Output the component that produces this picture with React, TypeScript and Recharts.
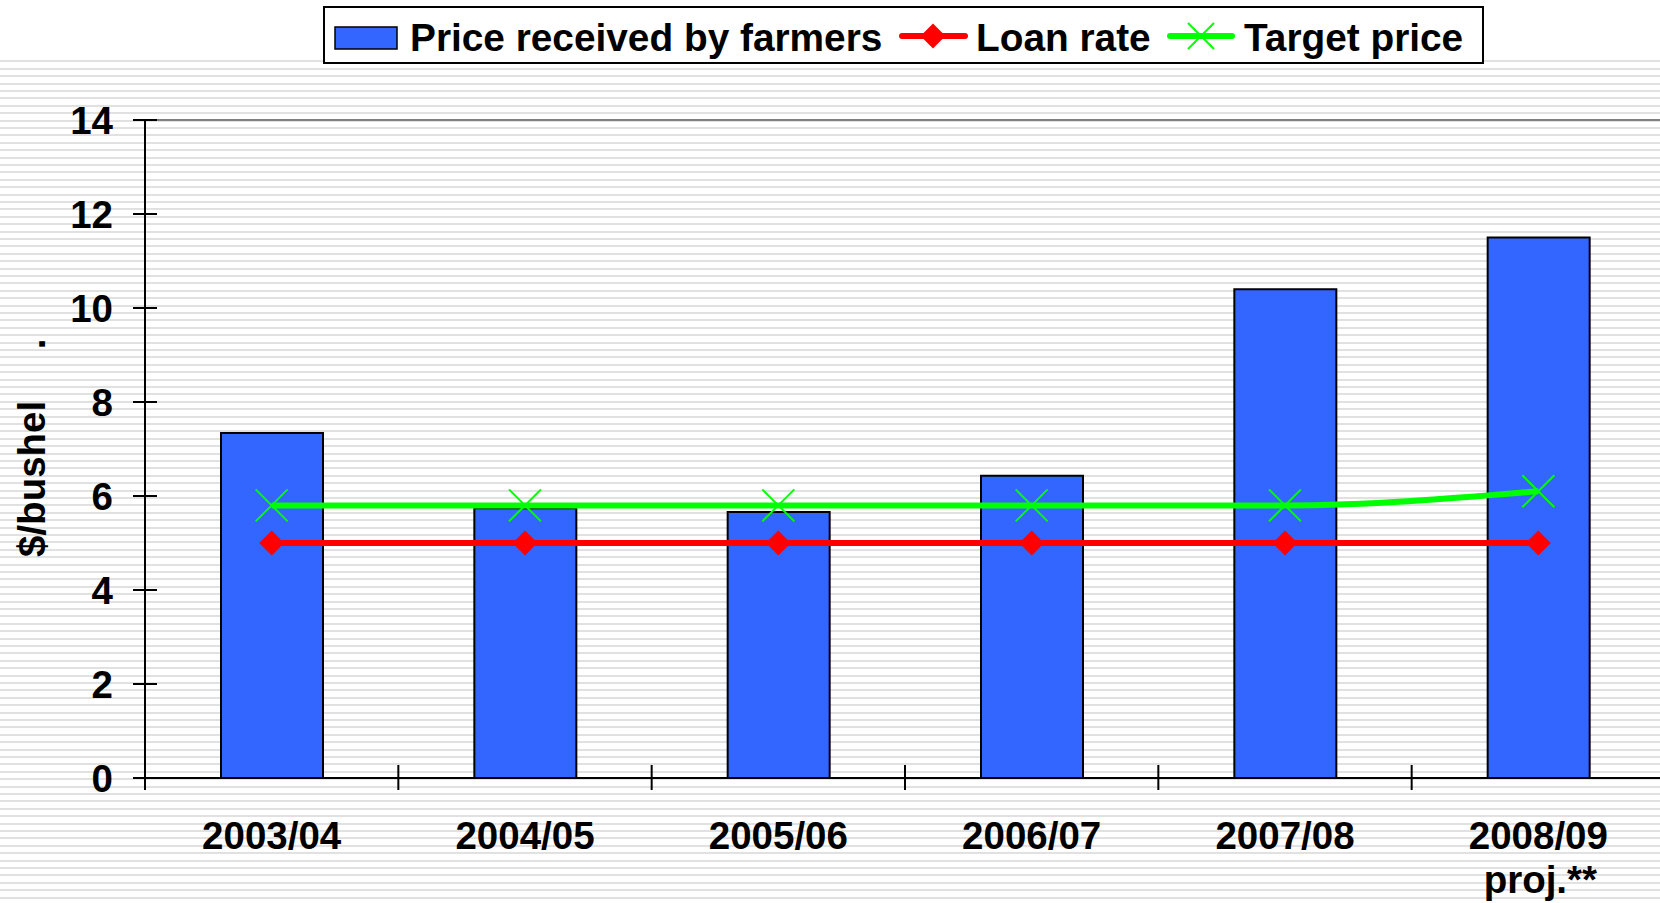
import React from 'react';
import { ComposedChart, Bar, Line, XAxis, YAxis, ReferenceLine } from 'recharts';

const categories = ['2003/04', '2004/05', '2005/06', '2006/07', '2007/08', '2008/09'];
const subLabels = ['', '', '', '', '', 'proj.**'];
const priceReceived = [7.34, 5.74, 5.66, 6.43, 10.4, 11.5];
const loanRate = [5.0, 5.0, 5.0, 5.0, 5.0, 5.0];
const targetPrice = [5.8, 5.8, 5.8, 5.8, 5.8, 6.1];
const yTicks = [0, 2, 4, 6, 8, 10, 12, 14];

const seriesNames = {
  price: 'Price received by farmers',
  loan: 'Loan rate',
  target: 'Target price',
};

const data = categories.map((c, i) => ({
  cat: c,
  price: priceReceived[i],
  loan: loanRate[i],
  target: targetPrice[i],
}));

const FONT = '"Liberation Sans", Arial, Helvetica, sans-serif';
const FS = 38.5;
const LFS = 38.8;
const W = 1665;
const H = 903;
const Y_AXIS_W = 145;
const X_AXIS_H = 125;
const TOP = 120;
const band = (W - Y_AXIS_W) / categories.length;

const XTick = (props: any) => {
  const { x, y, payload, index } = props;
  const i = typeof payload?.index === 'number' ? payload.index : index;
  const sub = subLabels[i];
  return (
    <g>
      <line x1={x - band / 2} x2={x - band / 2} y1={y - 13} y2={y + 12} stroke="#000" strokeWidth={2} />
      <text x={x} y={y + 71} textAnchor="middle" fontFamily={FONT} fontWeight="bold" fontSize={FS} fill="#000">
        {payload.value}
      </text>
      {sub ? (
        <text x={x + 2} y={y + 115} textAnchor="middle" fontFamily={FONT} fontWeight="bold" fontSize={FS} fill="#000">
          {sub}
        </text>
      ) : null}
    </g>
  );
};

const YTick = (props: any) => {
  const { x, y, payload } = props;
  return (
    <g>
      <line x1={x - 12} x2={x + 12} y1={y} y2={y} stroke="#000" strokeWidth={2} />
      <text x={x - 32} y={y + 14} textAnchor="end" fontFamily={FONT} fontWeight="bold" fontSize={FS} fill="#000">
        {payload.value}
      </text>
    </g>
  );
};

const YLabel = () => (
  <g>
    <text
      x={45}
      y={557}
      transform="rotate(-90 45 557)"
      textAnchor="start"
      fontFamily={FONT}
      fontWeight="bold"
      fontSize={FS}
      fill="#000"
    >
      $/bushel
    </text>
    <text
      x={45}
      y={344}
      transform="rotate(-90 45 344)"
      textAnchor="middle"
      fontFamily={FONT}
      fontWeight="bold"
      fontSize={FS}
      fill="#000"
    >
      .
    </text>
  </g>
);

const Diamond = ({ cx, cy, r }: { cx: number; cy: number; r: number }) => (
  <polygon points={`${cx},${cy - r} ${cx + r},${cy} ${cx},${cy + r} ${cx - r},${cy}`} fill="#FF0000" />
);

const Cross = ({ cx, cy, r }: { cx: number; cy: number; r: number }) => (
  <g>
    <line x1={cx - r} y1={cy - r} x2={cx + r} y2={cy + r} stroke="#00FF00" strokeWidth={2} />
    <line x1={cx - r} y1={cy + r} x2={cx + r} y2={cy - r} stroke="#00FF00" strokeWidth={2} />
  </g>
);

const renderDiamond = (p: any) => (
  <g key={`d-${p.index}`}>
    <Diamond cx={p.cx} cy={p.cy} r={12.5} />
  </g>
);

const renderCross = (p: any) => (
  <g key={`x-${p.index}`}>
    <Cross cx={p.cx} cy={p.cy} r={16} />
  </g>
);

const LegendBox = () => (
  <svg
    width={1161}
    height={58}
    style={{ position: 'absolute', left: 323, top: 6, display: 'block' }}
  >
    <rect x={1} y={1} width={1159} height={56} fill="#fff" stroke="#000" strokeWidth={2} />
    <rect x={12} y={21} width={62} height={22} fill="#3366FF" stroke="#000" strokeWidth={1.5} />
    <text x={87} y={45} fontFamily={FONT} fontWeight="bold" fontSize={LFS} fill="#000">
      {seriesNames.price}
    </text>
    <line x1={579} x2={642} y1={30} y2={30} stroke="#FF0000" strokeWidth={6} strokeLinecap="round" />
    <Diamond cx={610} cy={30} r={12.5} />
    <text x={653} y={45} fontFamily={FONT} fontWeight="bold" fontSize={LFS} fill="#000">
      {seriesNames.loan}
    </text>
    <line x1={847} x2={909} y1={30} y2={30} stroke="#00FF00" strokeWidth={6} strokeLinecap="round" />
    <Cross cx={878} cy={30} r={13} />
    <text x={921} y={45} fontFamily={FONT} fontWeight="bold" fontSize={LFS} fill="#000">
      {seriesNames.target}
    </text>
  </svg>
);

export default function App() {
  return (
    <div
      style={{
        position: 'absolute',
        left: 0,
        top: 0,
        width: 1660,
        height: 903,
        overflow: 'hidden',
        background: '#fff',
      }}
    >
      <div
        style={{
          position: 'absolute',
          left: 0,
          top: 55,
          width: 1660,
          height: 848,
          background:
            'repeating-linear-gradient(180deg, #ffffff 0px, #ffffff 5.4px, #e1e1e1 5.4px, #e1e1e1 7.4px)',
        }}
      />
      <div style={{ position: 'absolute', left: 0, top: 0 }}>
        <ComposedChart
          width={W}
          height={H}
          data={data}
          margin={{ top: TOP, right: 0, bottom: 0, left: 0 }}
        >
          <ReferenceLine y={14} stroke="#808080" strokeWidth={2} ifOverflow="extendDomain" />
          <XAxis
            dataKey="cat"
            height={X_AXIS_H}
            interval={0}
            tickLine={false}
            tickSize={0}
            tickMargin={0}
            axisLine={{ stroke: '#000', strokeWidth: 2 }}
            tick={(p: any) => <XTick {...p} />}
          />
          <YAxis
            width={Y_AXIS_W}
            domain={[0, 14]}
            ticks={yTicks}
            interval={0}
            tickLine={false}
            tickSize={0}
            tickMargin={0}
            axisLine={{ stroke: '#000', strokeWidth: 2 }}
            tick={(p: any) => <YTick {...p} />}
            label={<YLabel />}
          />
          <Bar
            dataKey="price"
            name={seriesNames.price}
            fill="#3366FF"
            stroke="#000"
            strokeWidth={2}
            barSize={102}
            isAnimationActive={false}
          />
          <Line
            dataKey="loan"
            name={seriesNames.loan}
            type="linear"
            stroke="#FF0000"
            strokeWidth={6}
            dot={renderDiamond}
            activeDot={false}
            isAnimationActive={false}
          />
          <Line
            dataKey="target"
            name={seriesNames.target}
            type="monotone"
            stroke="#00FF00"
            strokeWidth={6}
            dot={renderCross}
            activeDot={false}
            isAnimationActive={false}
          />
        </ComposedChart>
      </div>
      <LegendBox />
    </div>
  );
}
